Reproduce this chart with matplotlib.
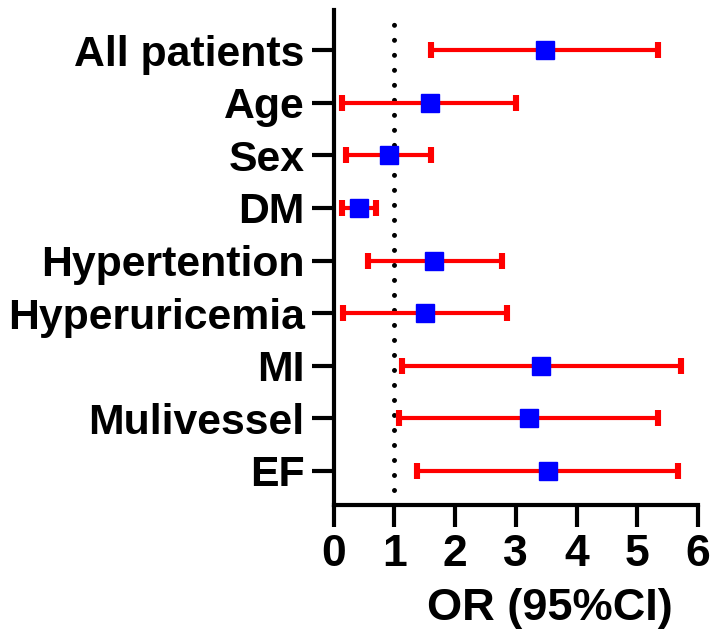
import matplotlib.pyplot as plt
import numpy as np

# Forest plot values (OR with 95% CI)
labels = ["All patients", "Age", "Sex", "DM", "Hypertention",
          "Hyperuricemia", "MI", "Mulivessel", "EF"]
odds = [3.48, 1.59, 0.91, 0.41, 1.66, 1.51, 3.42, 3.21, 3.53]
ci_low = [1.61, 0.14, 0.21, 0.13, 0.56, 0.16, 1.12, 1.07, 1.38]
ci_high = [5.35, 3.01, 1.61, 0.69, 2.77, 2.85, 5.72, 5.35, 5.67]
xticks = [0, 1, 2, 3, 4, 5, 6]

plt.rcParams['font.family'] = ['Liberation Sans', 'DejaVu Sans']
plt.rcParams['font.weight'] = 'bold'

fig = plt.figure(figsize=(7.1, 6.37), dpi=100)
ax = fig.add_axes([0.470, 0.207, 0.513, 0.777])

y = np.arange(len(labels))
odds = np.array(odds)
err = [odds - np.array(ci_low), np.array(ci_high) - odds]

# reference line at OR = 1
ax.axvline(1, color='black', lw=3.6, linestyle=(0, (0.001, 3.0)),
           dash_capstyle='round', zorder=1)

ax.errorbar(odds, y, xerr=err, fmt='none', ecolor='#ff0000',
            elinewidth=3.0, capsize=5.5, capthick=4.4, zorder=2)
ax.plot(odds, y, 's', color='#0000ff', markersize=12.5,
        markeredgecolor='#0000ff', zorder=3)

ax.set_xlim(0, 6)
ax.set_ylim(8.65, -0.76)
ax.set_xticks(xticks)
ax.set_yticks(y)
ax.set_yticklabels(labels)

for side in ['top', 'right']:
    ax.spines[side].set_visible(False)
for side in ['left', 'bottom']:
    ax.spines[side].set_linewidth(3)

ax.tick_params(axis='both', width=3, length=16)
ax.tick_params(axis='y', pad=5, labelsize=30.8)
ax.tick_params(axis='x', pad=5, labelsize=32)

ax.set_xlabel("OR (95%CI)", fontsize=32.5, fontweight='bold')
ax.xaxis.set_label_coords(0.593, -0.208)
ax.xaxis.label.set_va('center')

fig.savefig("out.png", dpi=100)
